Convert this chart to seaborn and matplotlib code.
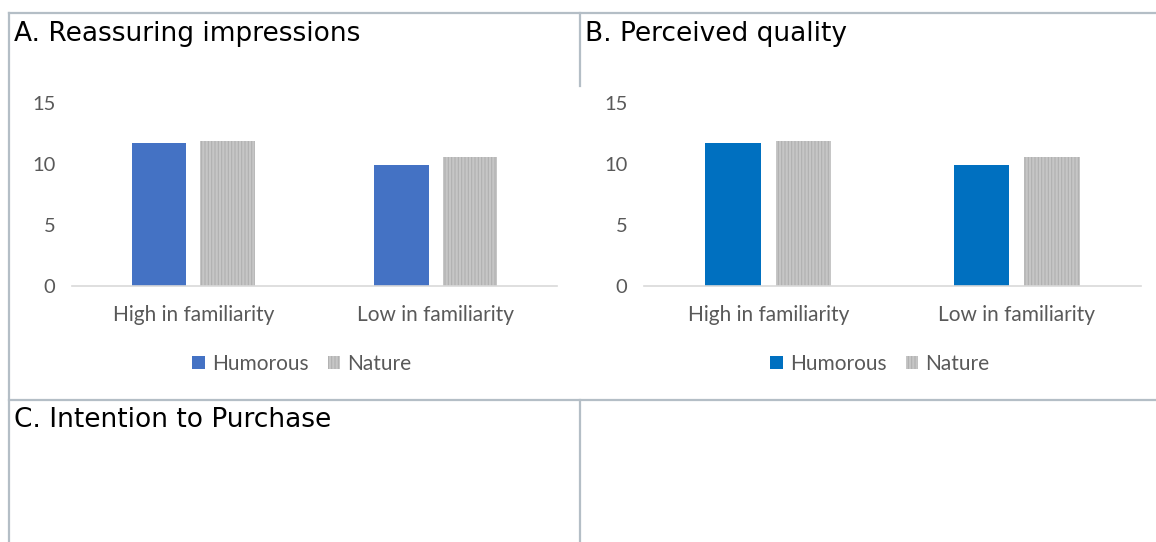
import numpy as np
import pandas as pd
import matplotlib
matplotlib.use("Agg")
import matplotlib.pyplot as plt
from matplotlib.lines import Line2D
from matplotlib.patches import Patch
import seaborn as sns

# ---- data ----
familiarity = ["High in familiarity", "Low in familiarity"]
ad_types = ["Humorous", "Nature"]
reassuring_humorous = [11.7, 9.9]
reassuring_nature = [11.9, 10.6]
quality_humorous = [11.7, 9.9]
quality_nature = [11.9, 10.6]
y_ticks = [0, 5, 10, 15]
panel_titles = ["A. Reassuring impressions", "B. Perceived quality",
                "C. Intention to Purchase"]

# ---- style ----
W, H = 1156, 542
sns.set_theme(style="white")
plt.rcParams["font.family"] = ["DejaVu Sans"]
plt.rcParams["hatch.linewidth"] = 0.8

fig = plt.figure(figsize=(W / 100, H / 100), dpi=100)


def fx(px):
    return px / W


def fy(py):
    return 1 - py / H


# table grid around the panels
grid_color = "#b4bec6"
segments = [((9, 13), (1156, 13)), ((9, 13), (9, 542)),
            ((580, 13), (580, 86)), ((9, 400), (1156, 400)),
            ((580, 400), (580, 542))]
for (x0, y0), (x1, y1) in segments:
    fig.add_artist(Line2D([fx(x0), fx(x1)], [fy(y0), fy(y1)],
                          color=grid_color, lw=1.6,
                          transform=fig.transFigure,
                          solid_capstyle="projecting"))

# panel titles
title_pos = [(14, 34), (585, 34), (14, 420)]
for t, (x, y) in zip(panel_titles, title_pos):
    fig.text(fx(x), fy(y), t, ha="left", va="center", fontsize=19,
             color="black", family=["DejaVu Sans"])

axis_font = ["Lato", "DejaVu Sans"]
label_color = "#595959"
nature_face = "#c6c6c6"
nature_stripe = "#b0b0b0"


def draw_panel(left, right, humorous, nature, blue, legend_cx):
    top, bottom = 103, 286
    ax = fig.add_axes([fx(left), fy(bottom), fx(right) - fx(left),
                       fy(top) - fy(bottom)])
    df = pd.DataFrame({
        "familiarity": familiarity * 2,
        "type": [ad_types[0]] * 2 + [ad_types[1]] * 2,
        "score": list(humorous) + list(nature),
    })
    sns.barplot(data=df, x="familiarity", y="score", hue="type",
                order=familiarity, hue_order=ad_types,
                palette=[blue, nature_face], width=0.568, gap=0.21,
                errorbar=None, legend=False, ax=ax, saturation=1)
    for bar in ax.containers[0]:
        bar.set_linewidth(0)
    for bar in ax.containers[1]:
        bar.set_hatch("|||||")
        bar.set_edgecolor(nature_stripe)
        bar.set_linewidth(0)
    ax.set_xlim(-0.5, 1.5)
    ax.set_ylim(0, 15)
    ax.set_yticks(y_ticks)
    ax.set_xlabel("")
    ax.set_ylabel("")
    for s in ["top", "right", "left"]:
        ax.spines[s].set_visible(False)
    ax.spines["bottom"].set_color("#d9d9d9")
    ax.spines["bottom"].set_linewidth(1.2)
    ax.tick_params(axis="both", length=0, labelcolor=label_color)
    ax.tick_params(axis="y", pad=12)
    ax.tick_params(axis="x", pad=14)
    for lab in ax.get_xticklabels():
        lab.set_fontfamily(axis_font)
        lab.set_fontsize(15)
    for lab in ax.get_yticklabels():
        lab.set_fontfamily(axis_font)
        lab.set_fontsize(14.5)
    ax.patch.set_alpha(0)

    handles = [Patch(facecolor=blue, edgecolor="none"),
               Patch(facecolor=nature_face, edgecolor=nature_stripe,
                     hatch="|||||", lw=0)]
    fig.legend(handles, ad_types, loc="center", ncol=2,
               bbox_to_anchor=(fx(legend_cx), fy(364)), frameon=False,
               handlelength=0.6, handleheight=0.6, handletextpad=0.35,
               columnspacing=0.9, prop={"family": axis_font, "size": 15},
               labelcolor=label_color)
    return ax


draw_panel(72, 557, reassuring_humorous, reassuring_nature, "#4472c4", 302)
draw_panel(644, 1141, quality_humorous, quality_nature, "#0070c0", 880)

fig.savefig("out.png", dpi=100, facecolor="white")
